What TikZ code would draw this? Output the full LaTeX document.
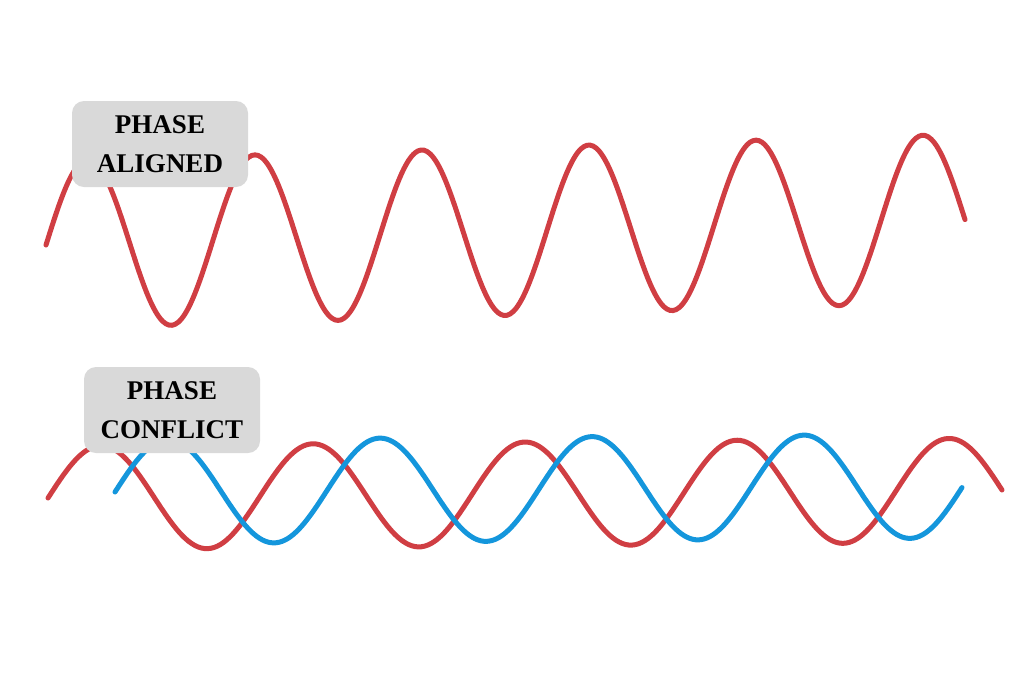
\documentclass[tikz,border=0pt]{standalone}
\usepackage{fontspec}
\setmainfont{Liberation Serif}
\begin{document}
\begin{tikzpicture}[
x=1pt, y=-1pt,
wave/.style={line width=5pt, line cap=round, smooth},
redwave/.style={wave, draw={rgb,255:red,208;green,62;blue,67}},
bluewave/.style={wave, draw={rgb,255:red,20;green,150;blue,220}},
tag/.style={fill={rgb,255:red,217;green,217;blue,217}, rounded corners=12pt,
  align=center, font=\fontsize{27}{39}\selectfont\bfseries,
  minimum width=176pt, minimum height=86pt, inner sep=0pt}
]
\useasboundingbox (0,0) rectangle (1024,683);

% phase aligned
\draw[redwave] plot[domain=46:965, samples=300]
  (\x, {245-27*((\x-46)/919)-84*sin(((\x-46)/167)*360)});

% phase conflict
\draw[redwave] plot[domain=48:1002, samples=300]
  (\x, {498-8*((\x-48)/954)-52*sin(((\x-48)/212)*360)});
\draw[bluewave] plot[domain=115:962, samples=300]
  (\x, {492-6*((\x-115)/847)-52*sin(((\x-115)/212)*360)});

% labels
\node[tag] (aligned) at (160,144) {PHASE\\ALIGNED};
\node[tag] (conflict) at (172,410) {PHASE\\CONFLICT};
\end{tikzpicture}
\end{document}
